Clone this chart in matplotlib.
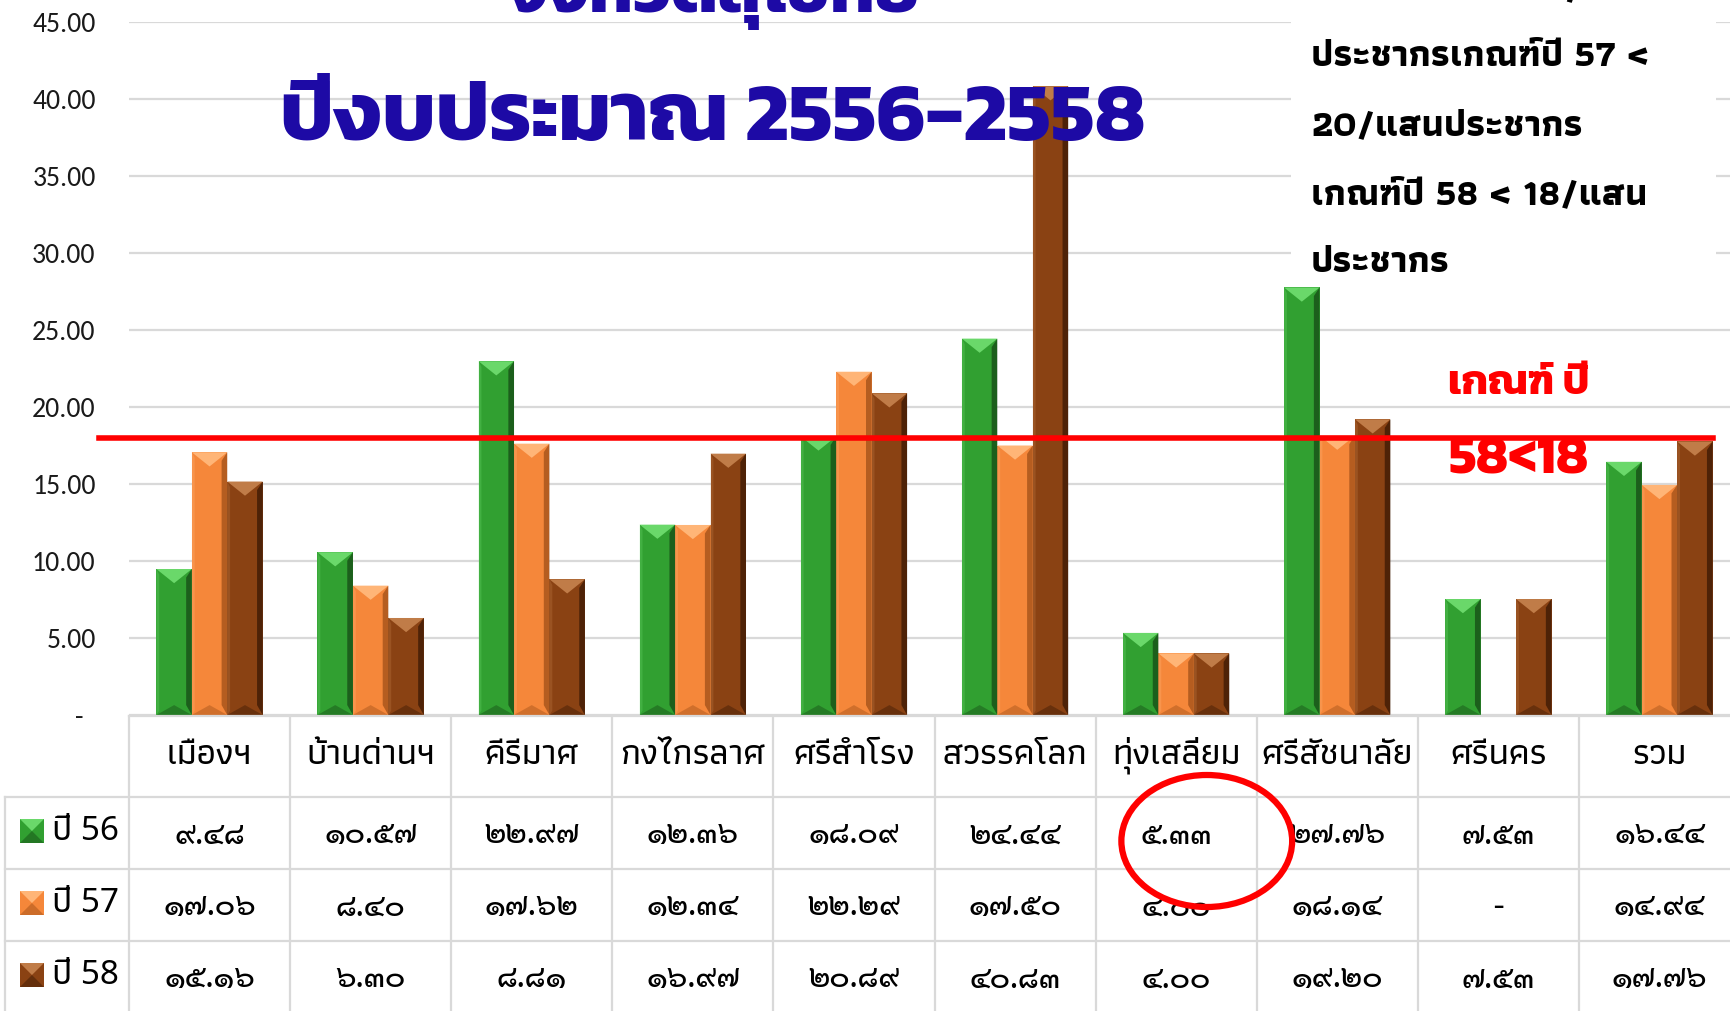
import numpy as np
import matplotlib
matplotlib.use("Agg")
import matplotlib.pyplot as plt
from matplotlib.patches import Rectangle, Polygon, Ellipse

# ---- data ----
districts = ["เมืองฯ", "บ้านด่านฯ", "คีรีมาศ", "กงไกรลาศ", "ศรีสำโรง",
             "สวรรคโลก", "ทุ่งเสลี่ยม", "ศรีสัชนาลัย", "ศรีนคร", "รวม"]
year_labels = ["ปี 56", "ปี 57", "ปี 58"]
y56 = [9.48, 10.57, 22.97, 12.36, 18.09, 24.44, 5.33, 27.76, 7.53, 16.44]
y57 = [17.06, 8.40, 17.62, 12.34, 22.29, 17.50, 4.00, 18.14, None, 14.94]
y58 = [15.16, 6.30, 8.81, 16.97, 20.89, 40.83, 4.00, 19.20, 7.53, 17.76]
target = 18
title_lines = ["จังหวัดสุโขทัย", "ปีงบประมาณ 2556-2558"]
note_lines = ["เกณฑ์ปี 56 < 22/แสน", "ประชากรเกณฑ์ปี 57 <", "20/แสนประชากร",
              "เกณฑ์ปี 58 < 18/แสน", "ประชากร"]
red_lines = ["เกณฑ์ ปี", "58<18"]

series = [y56, y57, y58]
# base, light (bevel top), dark (right edge)
palette = [("#31a031", "#6ad86a", "#174f17"),
           ("#f5873a", "#ffb577", "#a5531a"),
           ("#8a4213", "#c07c48", "#3f1b05")]

THAI_DIGITS = str.maketrans("0123456789", "๐๑๒๓๔๕๖๗๘๙")


def thai_num(v):
    if v is None:
        return "-"
    return f"{v:.2f}".translate(THAI_DIGITS)


W, H = 1730, 1011
fig = plt.figure(figsize=(W / 100, H / 100), dpi=100)


def fx(px):
    return px / W


def fy(py):
    return 1 - py / H


# main chart axes: x from 129px to 1740px, y 0 at 715px, 45 at 22px
ax = fig.add_axes([fx(129), fy(715), 1611 / W, (715 - 22) / H])
ax.set_xlim(-0.5, 9.5)
ax.set_ylim(0, 45)
for s in ax.spines.values():
    s.set_visible(False)
ax.set_axisbelow(True)
ax.yaxis.grid(True, color="#d9d9d9", lw=1.6)
ax.set_yticks(np.arange(0, 46, 5))
ax.set_yticklabels(["-  "] + [f"{v:.2f}" for v in np.arange(5, 46, 5)],
                   fontsize=20, family=["Carlito", "Lato"], color="#1a1a1a")
ax.tick_params(axis="y", length=0, pad=24)
ax.set_xticks([])

x = np.arange(len(districts))
bw = 0.22
sx, sy = (ax.transData.transform((1, 1)) - ax.transData.transform((0, 0)))


def bevel_bar(rect, light, dark):
    x0, w, h = rect.get_x(), rect.get_width(), rect.get_height()
    d = min(w * sx * 0.40 / sy, h / 2)
    e = w * 0.16
    xm = x0 + w / 2
    # lit top chevron
    ax.add_patch(Polygon([(x0, h), (x0 + w, h), (xm, h - d)],
                         closed=True, fc=light, ec="none", zorder=3))
    # shaded right side
    ax.add_patch(Polygon([(x0 + w, h), (x0 + w, 0), (x0 + w - e, d * 0.7), (x0 + w - e, h - d * 0.6)],
                         closed=True, fc=dark, ec="none", zorder=3, alpha=0.8))
    # shaded bottom
    ax.add_patch(Polygon([(x0, 0), (x0 + w, 0), (xm, d * 0.7)],
                         closed=True, fc=dark, ec="none", zorder=3, alpha=0.45))
    # faint highlight on the left edge
    ax.add_patch(Polygon([(x0, h), (x0 + e * 0.5, h - d * 0.4), (x0 + e * 0.5, d * 0.3), (x0, 0)],
                         closed=True, fc=light, ec="none", zorder=3, alpha=0.3))


for i, (vals, (base, light, dark)) in enumerate(zip(series, palette)):
    heights = [np.nan if v is None else v for v in vals]
    bars = ax.bar(x + (i - 1) * bw, heights, bw, color=base, zorder=2, lw=0)
    for rect in bars:
        if np.isfinite(rect.get_height()):
            bevel_bar(rect, light, dark)

# target line
ax.axhline(target, xmin=-30 / 1611, xmax=(1713 - 129) / 1611, color="#ff0000",
           lw=4, zorder=6, clip_on=False)

# white note box (covers gridlines) in top right
ax.add_patch(Rectangle((fx(1291), fy(285)), 425 / W, 285 / H, transform=fig.transFigure,
                       fc="white", ec="none", zorder=1.5, clip_on=False))
for k, line in enumerate(note_lines):
    fig.text(fx(1311), fy(-11 + 68.5 * k), line, ha="left", va="center",
             fontsize=26.5, family=["Athiti", "DejaVu Sans"], fontweight="bold", color="black")

for k, (line, fs) in enumerate(zip(red_lines, [30, 38])):
    fig.text(fx(1519), fy(384 + 77 * k), line, ha="center", va="center",
             fontsize=fs, family=["Kanit", "DejaVu Sans"], fontweight="bold", color="#ff0000")

# title (top line cut off by the figure edge, as in the source slide)
for k, (line, fs) in enumerate(zip(title_lines, [51, 60])):
    fig.text(fx(713), fy(12 + 128 * k), line, ha="center", va="baseline",
             fontsize=fs, family=["Kanit", "DejaVu Sans"], fontweight="bold", color="#1d0aa5")

# ---- data table under the chart ----
tab = fig.add_axes([fx(129), 0, 1611 / W, 296 / H])
tab.set_xlim(-0.5, 9.5)
tab.set_ylim(296, 0)
tab.axis("off")
grid_c = "#d9d9d9"
x_left = -0.5 - (129 - 5) / 161
row_edges = [82, 154, 226, 298]
tab.plot([-0.5, 9.6], [1, 1], color=grid_c, lw=1.6, clip_on=False)
for yy in row_edges[:-1]:
    tab.plot([x_left, 9.6], [yy, yy], color=grid_c, lw=1.6, clip_on=False)
for xx in np.arange(-0.5, 10, 1):
    tab.plot([xx, xx], [1, 300], color=grid_c, lw=1.6, clip_on=False)
tab.plot([x_left, x_left], [82, 300], color=grid_c, lw=1.6, clip_on=False)

for j, name in enumerate(districts):
    tab.text(j, 40, name, ha="center", va="center", fontsize=26,
             family=["Athiti", "DejaVu Sans"], fontweight="medium", color="black")

for i, vals in enumerate(series):
    yc = (row_edges[i] + row_edges[i + 1]) / 2 + 2
    for j, v in enumerate(vals):
        tab.text(j, yc, thai_num(v), ha="center", va="center", fontsize=22,
                 family=["Sarabun", "DejaVu Sans"], fontweight="medium", color="black")
    base, light, dark = palette[i]
    sq = 24
    cx = -0.5 - (129 - 32) / 161
    x0, y0 = cx - sq / 2 / 161, yc - 4 - sq / 2
    tab.add_patch(Rectangle((x0, y0), sq / 161, sq, fc=base, ec="none", clip_on=False, zorder=3))
    tab.add_patch(Polygon([(x0, y0), (x0 + sq / 161, y0), (cx, y0 + sq / 2)],
                          fc=light, ec="none", clip_on=False, zorder=3))
    tab.add_patch(Polygon([(x0, y0 + sq), (x0 + sq / 161, y0 + sq), (cx, y0 + sq / 2)],
                          fc=dark, ec="none", alpha=0.5, clip_on=False, zorder=3))
    tab.text(-0.5 - (129 - 52) / 161, yc - 4, year_labels[i], ha="left", va="center",
             fontsize=24, family=["Noto Sans Thai", "DejaVu Sans"], color="black")

# red circle around the lowest ปี 56 value
tab.add_patch(Ellipse((6.19, 126), 1.06, 132, fill=False, ec="#ff0000", lw=4.5,
                      clip_on=False, zorder=10))

fig.savefig("out.png", dpi=100)
